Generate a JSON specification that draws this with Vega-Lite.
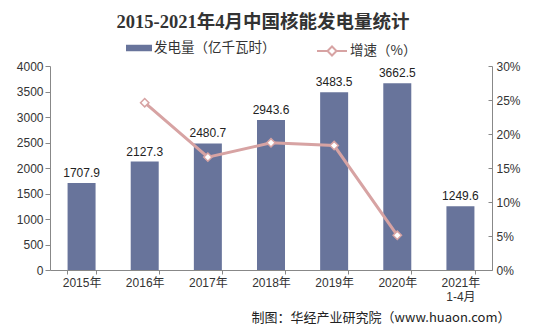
{
  "$schema": "https://vega.github.io/schema/vega-lite/v6.json",
  "width": 442,
  "height": 204,
  "padding": {"left": 16, "top": 12, "right": 8, "bottom": 4},
  "background": "white",
  "title": {
    "text": "2015-2021年4月中国核能发电量统计",
    "font": "Liberation Serif, Noto Sans CJK SC",
    "fontSize": 18.5,
    "fontWeight": "bold",
    "color": "#333333",
    "anchor": "middle",
    "dx": -8,
    "offset": 4
  },
  "data": {
    "values": [
      {"year": "2015年", "gen": 1707.9, "rate": null},
      {"year": "2016年", "gen": 2127.3, "rate": 0.246},
      {"year": "2017年", "gen": 2480.7, "rate": 0.166},
      {"year": "2018年", "gen": 2943.6, "rate": 0.187},
      {"year": "2019年", "gen": 3483.5, "rate": 0.183},
      {"year": "2020年", "gen": 3662.5, "rate": 0.051},
      {"year": "2021年|1-4月", "gen": 1249.6, "rate": null}
    ]
  },
  "encoding": {
    "x": {
      "field": "year",
      "type": "nominal",
      "sort": null,
      "scale": {"paddingInner": 0.55, "paddingOuter": 0.275},
      "axis": {
        "labelAngle": 0,
        "labelExpr": "isValid(datum.value) ? split(datum.value, '|') : ''",
        "labelFont": "Liberation Sans, Noto Sans CJK SC",
        "labelFontSize": 12,
        "labelColor": "#333333",
        "labelPadding": 3,
        "labelLineHeight": 14,
        "tickBand": "extent",
        "tickSize": 4,
        "tickColor": "#888888",
        "domainColor": "#888888",
        "title": "制图：华经产业研究院（www.huaon.com）",
        "titleFont": "Noto Sans CJK SC",
        "titleFontSize": 13,
        "titleFontWeight": "normal",
        "titleColor": "#222222",
        "titleAnchor": "end",
        "titleAlign": "right",
        "titleX": 460,
        "titlePadding": 9
      }
    }
  },
  "layer": [
    {
      "encoding": {
        "y": {
          "field": "gen",
          "type": "quantitative",
          "scale": {"domain": [0, 4000]},
          "axis": {
            "values": [0, 500, 1000, 1500, 2000, 2500, 3000, 3500, 4000],
            "format": "d",
            "grid": false,
            "title": null,
            "labelFont": "Liberation Sans",
            "labelFontSize": 12,
            "labelColor": "#333333",
            "tickColor": "#888888",
            "domainColor": "#888888",
            "tickSize": 5
          }
        }
      },
      "layer": [
        {
          "mark": {"type": "bar", "width": 28},
          "encoding": {
            "fill": {
              "datum": "发电量（亿千瓦时）",
              "scale": {"range": ["#68749B"]},
              "legend": {
                "title": null,
                "orient": "top",
                "symbolType": "M-1,-0.25H1V0.25H-1Z",
                "symbolSize": 676,
                "symbolStrokeWidth": 0,
                "labelFont": "Noto Sans CJK SC",
                "labelFontSize": 13.5,
                "labelColor": "#333333",
                "labelOffset": 2
              }
            }
          }
        },
        {
          "mark": {"type": "text", "dy": -10, "font": "Liberation Sans", "fontSize": 12, "color": "#222222"},
          "encoding": {
            "text": {"field": "gen", "type": "quantitative", "format": ".1f"}
          }
        }
      ]
    },
    {
      "encoding": {
        "y": {
          "field": "rate",
          "type": "quantitative",
          "scale": {"domain": [0, 0.3]},
          "axis": {
            "orient": "right",
            "values": [0, 0.05, 0.1, 0.15, 0.2, 0.25, 0.3],
            "format": ".0%",
            "grid": false,
            "title": null,
            "labelFont": "Liberation Sans",
            "labelFontSize": 12,
            "labelColor": "#333333",
            "tickColor": "#888888",
            "domainColor": "#888888",
            "tickSize": -4,
            "labelPadding": 8
          }
        }
      },
      "layer": [
        {
          "mark": {"type": "line", "strokeWidth": 3, "color": "#D7A3A3"},
          "encoding": {
            "stroke": {
              "datum": "增速（%）",
              "scale": {"range": ["#D7A3A3"]},
              "legend": {
                "title": null,
                "orient": "top",
                "symbolType": "M-1,0H-0.3M0.3,0H1M-0.3,0L0,-0.3L0.3,0L0,0.3Z",
                "symbolSize": 900,
                "symbolStrokeWidth": 2,
                "symbolFillColor": "white",
                "labelFont": "Noto Sans CJK SC",
                "labelFontSize": 13.5,
                "labelColor": "#333333",
                "labelOffset": 2
              }
            }
          }
        },
        {
          "mark": {"type": "point", "shape": "diamond", "filled": true, "fill": "white", "stroke": "#D7A3A3", "strokeWidth": 1.5, "size": 70, "opacity": 1}
        }
      ]
    }
  ],
  "resolve": {"scale": {"y": "independent"}},
  "config": {
    "view": {"stroke": null},
    "legend": {"layout": {"top": {"anchor": "middle", "direction": "horizontal", "margin": 40}}, "offset": 6}
  }
}
